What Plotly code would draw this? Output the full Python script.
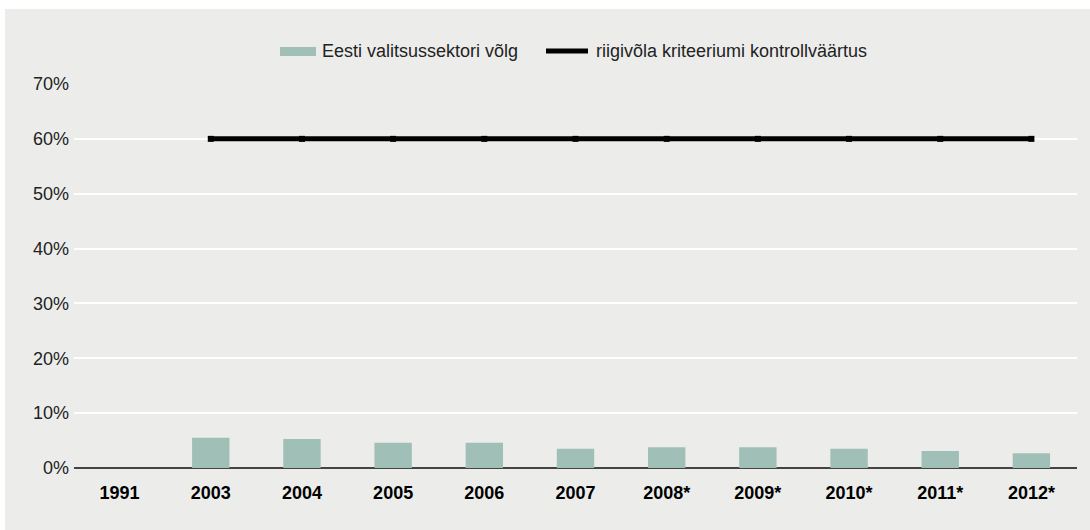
import plotly.graph_objects as go

categories = ["1991", "2003", "2004", "2005", "2006", "2007", "2008*", "2009*", "2010*", "2011*", "2012*"]
debt = [None, 5.5, 5.3, 4.6, 4.6, 3.5, 3.8, 3.8, 3.5, 3.1, 2.7]
criterion = [None, 60, 60, 60, 60, 60, 60, 60, 60, 60, 60]
y_ticks = [0, 10, 20, 30, 40, 50, 60, 70]
y_tick_labels = ["0%", "10%", "20%", "30%", "40%", "50%", "60%", "70%"]
series_names = ["Eesti valitsussektori võlg", "riigivõla kriteeriumi kontrollväärtus"]

BG = "#ecedeb"
BAR_COLOR = "#a0bfb6"
FONT = "Liberation Sans, Arial, Helvetica, sans-serif"

W, H = 1090, 530
L, R, T, B = 74, 13, 84, 62
pw = W - L - R
ph = H - T - B


def px(x):
    return (x - L) / pw


def py(y):
    return (H - B - y) / ph


fig = go.Figure()
fig.add_trace(go.Bar(
    x=categories, y=debt, name=series_names[0],
    marker=dict(color=BAR_COLOR, line=dict(width=0)),
    width=0.41, showlegend=False,
))
fig.add_trace(go.Scatter(
    x=categories, y=criterion, name=series_names[1],
    mode="lines+markers",
    line=dict(color="#000000", width=5),
    marker=dict(color="#000000", size=6, symbol="square"),
    showlegend=False,
))

# background panel
fig.add_shape(
    type="rect", xref="paper", yref="paper", layer="below",
    x0=px(5), x1=px(W + 5), y0=py(H + 5), y1=py(9),
    fillcolor=BG, line=dict(width=0),
)

# custom legend
fig.add_shape(
    type="rect", xref="paper", yref="paper",
    x0=px(280), x1=px(316), y0=py(56), y1=py(47),
    fillcolor=BAR_COLOR, line=dict(width=0),
)
fig.add_shape(
    type="line", xref="paper", yref="paper",
    x0=px(546), x1=px(588), y0=py(51), y1=py(51),
    line=dict(color="#000000", width=5),
)
fig.add_annotation(
    text=series_names[0], xref="paper", yref="paper",
    x=px(320), y=py(51), xanchor="left", yanchor="middle",
    showarrow=False, font=dict(size=18, color="#222222", family=FONT),
)
fig.add_annotation(
    text=series_names[1], xref="paper", yref="paper",
    x=px(594), y=py(51), xanchor="left", yanchor="middle",
    showarrow=False, font=dict(size=18, color="#222222", family=FONT),
)

fig.update_layout(
    width=W, height=H,
    margin=dict(l=L, r=R, t=T, b=B),
    paper_bgcolor="#ffffff",
    plot_bgcolor=BG,
    font=dict(family=FONT, size=18, color="#222222"),
    showlegend=False,
    xaxis=dict(
        type="category", tickvals=categories, ticktext=[f"<b>{c}</b>" for c in categories],
        showgrid=False, showline=False, ticks="", zeroline=False,
        tickfont=dict(size=18, color="#000000"),
        range=[-0.5, len(categories) - 0.5],
        ticklabelstandoff=12,
    ),
    yaxis=dict(
        range=[0, 70], tickvals=y_ticks, ticktext=y_tick_labels,
        showgrid=True, gridcolor="#ffffff", gridwidth=1.5,
        zeroline=True, zerolinecolor="#444444", zerolinewidth=2,
        showline=False, ticks="", tickfont=dict(size=18, color="#222222"),
        ticklabelstandoff=4,
    ),
)

fig.write_html(
    "out.html",
    config={"displayModeBar": False},
    post_script="document.body.style.margin='0';document.body.style.overflow='hidden';",
)
